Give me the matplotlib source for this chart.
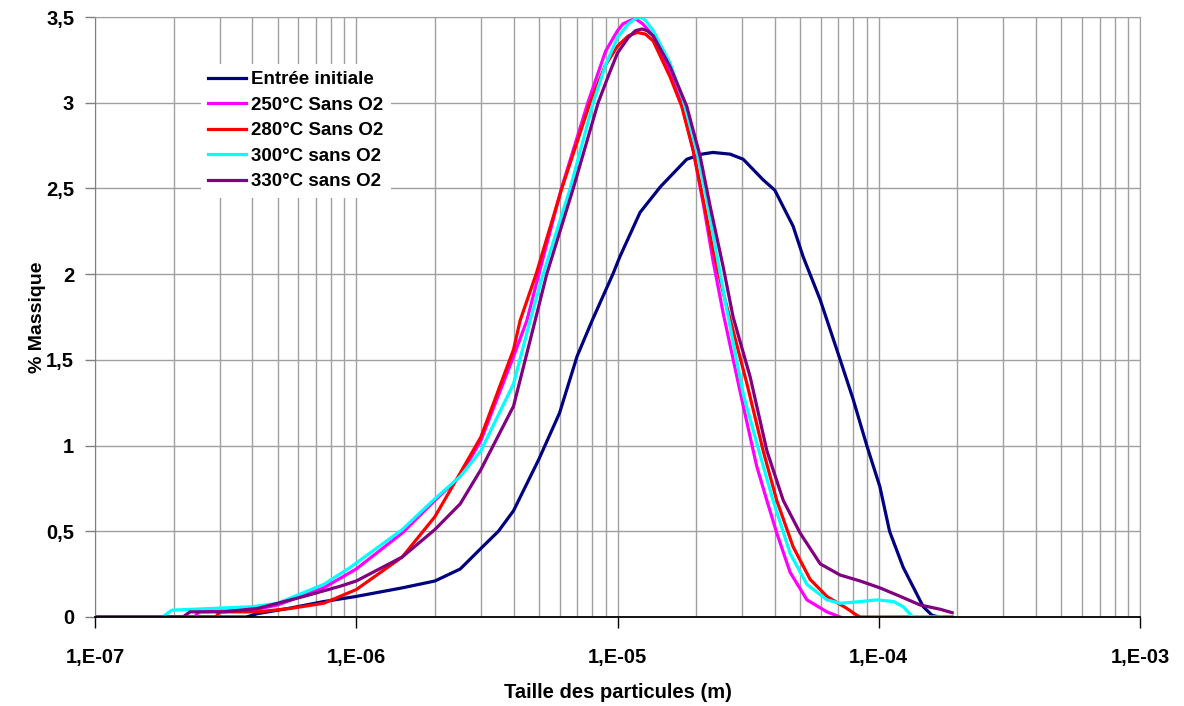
import numpy as np
import matplotlib
matplotlib.use('Agg')
import matplotlib.pyplot as plt
from matplotlib.ticker import FuncFormatter, LogLocator

plt.rcParams['font.family'] = ['Liberation Sans', 'DejaVu Sans']
plt.rcParams['font.weight'] = 'bold'

# particle size (m) / mass %
x_init = [1e-7, 3.8e-7, 4.2e-7, 5.5e-7, 7.5e-7, 1e-6, 1.5e-6, 2e-6, 2.5e-6, 3e-6, 3.5e-6,
          4e-6, 5e-6, 6e-6, 7e-6, 8e-6, 9.6e-6, 1.02e-5, 1.22e-5, 1.46e-5, 1.84e-5, 2.1e-5,
          2.32e-5, 2.7e-5, 3.03e-5, 3.61e-5, 4e-5, 4.7e-5, 5.14e-5, 5.97e-5, 7.12e-5, 7.98e-5,
          9e-5, 1.01e-4, 1.1e-4, 1.24e-4, 1.48e-4, 1.6e-4, 1.7e-4]
y_init = [0, 0, 0.02, 0.05, 0.09, 0.12, 0.17, 0.21, 0.28, 0.40, 0.50,
          0.62, 0.92, 1.19, 1.52, 1.73, 2.0, 2.10, 2.36, 2.51, 2.67, 2.70,
          2.71, 2.70, 2.67, 2.55, 2.49, 2.28, 2.10, 1.85, 1.50, 1.27,
          1.00, 0.76, 0.50, 0.29, 0.06, 0.01, 0.0]

x_250 = [1e-7, 2.4e-7, 2.5e-7, 4e-7, 5e-7, 7.5e-7, 1e-6, 1.5e-6, 2e-6, 2.5e-6, 3e-6, 4e-6,
         4.5e-6, 5e-6, 6.1e-6, 7.7e-6, 9e-6, 1e-5, 1.05e-5, 1.12e-5, 1.17e-5, 1.25e-5,
         1.37e-5, 1.59e-5, 1.76e-5, 1.95e-5, 2.13e-5, 2.32e-5, 2.54e-5, 2.99e-5, 3.41e-5,
         3.73e-5, 4.07e-5, 4.58e-5, 5.31e-5, 6.33e-5, 7.11e-5]
y_250 = [0, 0, 0.03, 0.04, 0.07, 0.17, 0.28, 0.49, 0.68, 0.82, 1.03, 1.52,
         1.73, 2.0, 2.5, 3.0, 3.30, 3.42, 3.46, 3.48, 3.49, 3.46,
         3.39, 3.17, 3.0, 2.72, 2.41, 2.08, 1.77, 1.27, 0.88,
         0.68, 0.49, 0.26, 0.10, 0.03, 0.0]

x_280 = [1e-7, 2.9e-7, 3.0e-7, 4.2e-7, 5.6e-7, 7.5e-7, 1e-6, 1.5e-6, 2e-6, 2.5e-6, 3e-6,
         4e-6, 4.24e-6, 4.88e-6, 6.12e-6, 7.85e-6, 9e-6, 1e-5, 1.1e-5, 1.19e-5, 1.28e-5,
         1.37e-5, 1.59e-5, 1.76e-5, 1.95e-5, 2.13e-5, 2.32e-5, 2.58e-5, 3.13e-5, 3.61e-5,
         4.07e-5, 4.7e-5, 5.46e-5, 6.33e-5, 7.55e-5, 8.24e-5, 8.5e-5, 1.91e-4]
y_280 = [0, 0, 0.03, 0.03, 0.05, 0.08, 0.16, 0.35, 0.585, 0.84, 1.05,
         1.56, 1.73, 2.0, 2.5, 3.0, 3.22, 3.33, 3.39, 3.41, 3.40,
         3.36, 3.15, 2.98, 2.72, 2.43, 2.14, 1.85, 1.36, 0.97,
         0.68, 0.41, 0.22, 0.12, 0.05, 0.01, 0.0, 0.0]

x_300 = [1e-7, 1.81e-7, 1.97e-7, 4e-7, 5e-7, 7.5e-7, 9.5e-7, 1.5e-6, 2e-6, 2.5e-6, 3e-6,
         4e-6, 4.63e-6, 5.19e-6, 6.59e-6, 8.07e-6, 9e-6, 1e-5, 1.1e-5, 1.17e-5, 1.22e-5,
         1.28e-5, 1.37e-5, 1.59e-5, 1.78e-5, 2.01e-5, 2.2e-5, 2.4e-5, 2.6e-5, 3.03e-5,
         3.52e-5, 3.94e-5, 4.58e-5, 5.31e-5, 6.33e-5, 7.11e-5, 8.49e-5, 9.84e-5, 1.14e-4,
         1.24e-4, 1.35e-4, 1.72e-4]
y_300 = [0, 0, 0.04, 0.06, 0.08, 0.19, 0.29, 0.51, 0.69, 0.82, 0.97,
         1.36, 1.73, 2.0, 2.5, 3.0, 3.22, 3.38, 3.46, 3.49, 3.50,
         3.48, 3.42, 3.23, 3.02, 2.72, 2.43, 2.11, 1.82, 1.30,
         0.94, 0.68, 0.37, 0.19, 0.10, 0.08, 0.09, 0.10, 0.09,
         0.06, 0.0, 0.0]

x_330 = [1e-7, 2.17e-7, 2.31e-7, 3.1e-7, 4.2e-7, 6.3e-7, 8.7e-7, 1e-6, 1.5e-6, 2e-6, 2.5e-6,
         3e-6, 4e-6, 4.84e-6, 5.36e-6, 6.77e-6, 8.43e-6, 9.3e-6, 1e-5, 1.1e-5, 1.17e-5,
         1.24e-5, 1.3e-5, 1.37e-5, 1.59e-5, 1.84e-5, 2.07e-5, 2.26e-5, 2.54e-5, 2.77e-5,
         3.22e-5, 3.73e-5, 4.31e-5, 5e-5, 5.97e-5, 7.11e-5, 8.49e-5, 1.01e-4, 1.21e-4,
         1.44e-4, 1.72e-4, 1.91e-4]
y_330 = [0, 0, 0.03, 0.03, 0.05, 0.12, 0.18, 0.21, 0.35, 0.51, 0.66,
         0.86, 1.23, 1.73, 2.0, 2.5, 3.0, 3.17, 3.29, 3.38, 3.42,
         3.43, 3.42, 3.39, 3.21, 2.98, 2.69, 2.40, 2.04, 1.75,
         1.40, 0.97, 0.68, 0.49, 0.31, 0.245, 0.21, 0.17, 0.12,
         0.07, 0.045, 0.025]

series = [
    ('Entrée initiale', x_init, y_init, '#000080'),
    ('250°C Sans O2', x_250, y_250, '#ff00ff'),
    ('280°C Sans O2', x_280, y_280, '#ff0000'),
    ('300°C sans O2', x_300, y_300, '#00ffff'),
    ('330°C sans O2', x_330, y_330, '#800080'),
]

fig = plt.figure(figsize=(11.84, 7.06), dpi=100)
ax = fig.add_axes([95 / 1184, 1 - 617 / 706, 1045 / 1184, 600 / 706])

for name, xs, ys, col in series:
    ax.plot(xs, ys, color=col, lw=2.3, label=name)

ax.set_xscale('log')
ax.set_xlim(1e-7, 1e-3)
ax.set_ylim(0, 3.5)
ax.set_yticks(np.arange(0, 3.51, 0.5))
ax.xaxis.set_major_locator(LogLocator(base=10, numticks=10))
ax.xaxis.set_minor_locator(LogLocator(base=10, subs=np.arange(2, 10), numticks=20))
ax.xaxis.set_major_formatter(FuncFormatter(lambda v, p: '1,E%03d' % int(round(np.log10(v)))))
ax.xaxis.set_minor_formatter(FuncFormatter(lambda v, p: ''))
ax.yaxis.set_major_formatter(FuncFormatter(lambda v, p: ('%g' % v).replace('.', ',')))

ax.grid(True, which='both', axis='x', color='#a0a0a0', lw=1)
ax.grid(True, which='major', axis='y', color='#a0a0a0', lw=1)
ax.set_axisbelow(True)

ax.tick_params(axis='x', which='major', direction='out', length=8, width=1, color='black',
               labelsize=14.5, pad=14)
ax.tick_params(axis='x', which='minor', length=0)
ax.tick_params(axis='y', direction='out', length=7, width=1, color='#808080',
               labelsize=14.5, pad=8)
for lab in ax.get_xticklabels() + ax.get_yticklabels():
    lab.set_fontweight('bold')

ax.spines['bottom'].set_color('black')
ax.spines['bottom'].set_linewidth(1.3)
ax.spines['left'].set_color('#808080')
ax.spines['top'].set_color('#a0a0a0')
ax.spines['right'].set_color('#a0a0a0')

ax.set_xlabel('Taille des particules (m)', fontsize=14.5, fontweight='bold', labelpad=12)
ax.set_ylabel('% Massique', fontsize=14, fontweight='bold', labelpad=0)

leg = ax.legend(loc='upper left', bbox_to_anchor=(0.092, 0.938), fontsize=13.5,
                frameon=True, facecolor='white', edgecolor='none', framealpha=1,
                handlelength=2.0, handletextpad=0.3, labelspacing=0.45, borderpad=0.4)
for t in leg.get_texts():
    t.set_fontweight('bold')

fig.savefig('out.png', dpi=100, facecolor='white')
